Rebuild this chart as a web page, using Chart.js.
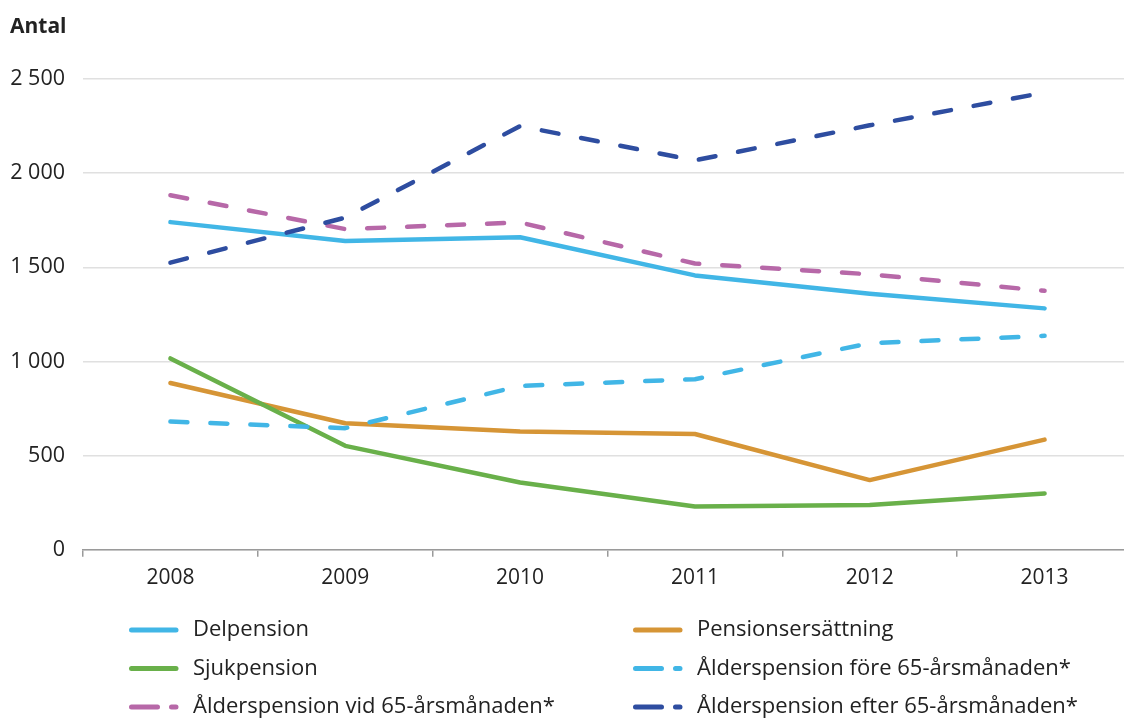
<!DOCTYPE html>
<html lang="sv">
<head>
<meta charset="utf-8">
<title>Antal</title>
<script src="https://cdn.jsdelivr.net/npm/chart.js@4.4.1/dist/chart.umd.min.js"></script>
<style>
    html, body { margin: 0; padding: 0; background: #fff; overflow: hidden; }
    #wrap { width: 1140px; height: 720px; }
</style>
</head>
<body>
<div id="wrap"><canvas id="chartPension" width="1140" height="720"></canvas></div>
<script>
const years = ['2008', '2009', '2010', '2011', '2012', '2013'];
const delpension = [1740, 1640, 1660, 1457, 1360, 1282];
const pensionsersattning = [886, 672, 628, 615, 370, 585];
const sjukpension = [1016, 552, 357, 230, 238, 299];
const alderFore = [681, 646, 870, 906, 1097, 1136];
const alderVid = [1883, 1703, 1738, 1520, 1463, 1375];
const alderEfter = [1525, 1764, 2250, 2068, 2254, 2428];
const yTicks = [0, 500, 1000, 1500, 2000, 2500];

const fontFamily = '"Open Sans", "Noto Sans", sans-serif';
const textColor = '#222';
const lineDash = [17, 23];

// two-column legend under the chart, row by row
const legendGrid = {
    id: 'legendGrid',
    afterDraw(chart, _args, options) {
        const { ctx } = chart;
        ctx.save();
        ctx.font = `${options.fontSize}px ${fontFamily}`;
        ctx.textBaseline = 'middle';
        chart.data.datasets.forEach((dataset, index) => {
            const x = options.columns[index % 2];
            const y = options.top + Math.floor(index / 2) * options.rowHeight;
            ctx.strokeStyle = dataset.borderColor;
            ctx.lineWidth = 5;
            ctx.lineCap = 'round';
            ctx.setLineDash(dataset.borderDash ? [26, 14] : []);
            ctx.beginPath();
            ctx.moveTo(x + 2.5, y);
            ctx.lineTo(x + 47, y);
            ctx.stroke();
            ctx.setLineDash([]);
            ctx.fillStyle = textColor;
            ctx.fillText(dataset.label, x + options.textOffset, y);
        });
        ctx.restore();
    },
};

const axisTitle = {
    id: 'axisTitle',
    afterDraw(chart) {
        const { ctx } = chart;
        ctx.save();
        ctx.font = `bold 21px ${fontFamily}`;
        ctx.fillStyle = textColor;
        ctx.textBaseline = 'middle';
        ctx.fillText('Antal', 10, 27);
        ctx.restore();
    },
};

const serie = (label, data, color, dashed, order) => ({
    label,
    data,
    borderColor: color,
    backgroundColor: color,
    borderWidth: 4.5,
    borderDash: dashed ? lineDash : undefined,
    borderCapStyle: 'round',
    borderJoinStyle: 'round',
    pointRadius: 0,
    tension: 0,
    fill: false,
    order,
});

new Chart(document.getElementById('chartPension'), {
    type: 'line',
    data: {
        labels: years,
        datasets: [
            serie('Delpension', delpension, '#41b6e6', false, 2),
            serie('Pensionsersättning', pensionsersattning, '#d69536', false, 3),
            serie('Sjukpension', sjukpension, '#69b04a', false, 2),
            serie('Ålderspension före 65-årsmånaden*', alderFore, '#41b6e6', true, 1),
            serie('Ålderspension vid 65-årsmånaden*', alderVid, '#b768a8', true, 1),
            serie('Ålderspension efter 65-årsmånaden*', alderEfter, '#2e4da0', true, 0),
        ],
    },
    plugins: [legendGrid, axisTitle],
    options: {
        responsive: false,
        animation: false,
        layout: { padding: { top: 79, left: 10, right: 8, bottom: 120 } },
        plugins: {
            legend: { display: false },
            tooltip: { enabled: false },
            legendGrid: { columns: [129, 633], top: 630, rowHeight: 38.5, fontSize: 22, textOffset: 64 },
        },
        scales: {
            x: {
                offset: true,
                grid: {
                    offset: true,
                    drawOnChartArea: false,
                    drawTicks: true,
                    tickLength: 7,
                    color: '#9a9a9a',
                    lineWidth: 1.5,
                },
                border: { color: '#9a9a9a', width: 1.5 },
                ticks: { color: textColor, font: { family: fontFamily, size: 21 }, padding: 9 },
            },
            y: {
                min: 0,
                max: 2500,
                afterBuildTicks: (scale) => { scale.ticks = yTicks.map((value) => ({ value })); },
                afterFit: (scale) => { scale.width = 73; },
                grid: { color: '#e0e0e0', lineWidth: 1.5, drawTicks: false },
                border: { display: false },
                ticks: {
                    color: textColor,
                    padding: 18,
                    font: { family: fontFamily, size: 21.5 },
                    callback: (value) => String(value).replace(/\B(?=(\d{3})+(?!\d))/g, ' '),
                },
            },
        },
    },
});
</script>
</body>
</html>
